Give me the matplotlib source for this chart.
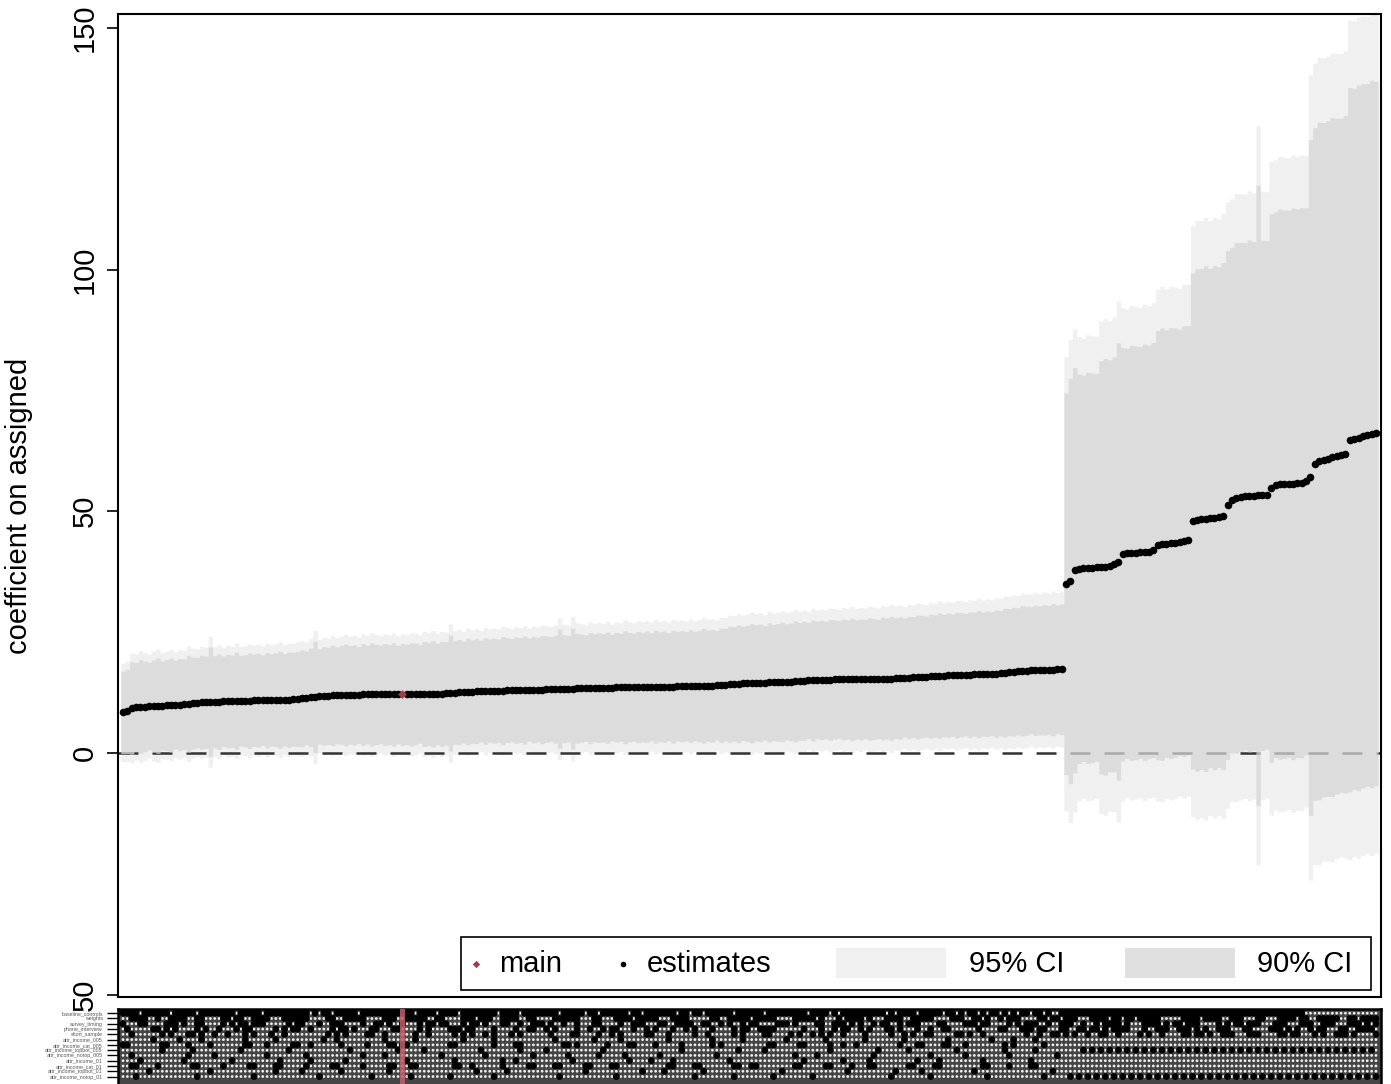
import numpy as np
import matplotlib
matplotlib.use("Agg")
import matplotlib.pyplot as plt
from matplotlib.patches import Rectangle

plt.rcParams["font.family"] = ["Liberation Sans", "DejaVu Sans"]

# specification curve: sorted point estimates and standard errors
EST_LOW = [
    8.4, 8.6, 9.3, 9.5, 9.6, 9.6, 9.7, 9.7, 9.8, 9.8,
    9.9, 9.9, 10.0, 10.0, 10.1, 10.2, 10.3, 10.4, 10.5, 10.5,
    10.6, 10.6, 10.6, 10.7, 10.7, 10.7, 10.8, 10.8, 10.8, 10.8,
    10.9, 10.9, 10.9, 10.9, 11.0, 11.0, 11.0, 11.0, 11.0, 11.1,
    11.2, 11.3, 11.4, 11.5, 11.6, 11.7, 11.8, 11.8, 11.9, 11.9,
    12.0, 12.0, 12.0, 12.0, 12.0, 12.1, 12.1, 12.1, 12.1, 12.1,
    12.1, 12.1, 12.1, 12.1, 12.1, 12.1, 12.1, 12.2, 12.2, 12.2,
    12.2, 12.2, 12.2, 12.2, 12.3, 12.4, 12.5, 12.6, 12.6, 12.7,
    12.7, 12.8, 12.8, 12.8, 12.9, 12.9, 12.9, 12.9, 13.0, 13.0,
    13.0, 13.0, 13.0, 13.1, 13.1, 13.1, 13.1, 13.2, 13.2, 13.2,
    13.3, 13.3, 13.3, 13.3, 13.4, 13.4, 13.4, 13.4, 13.5, 13.5,
    13.5, 13.5, 13.5, 13.6, 13.6, 13.6, 13.6, 13.6, 13.6, 13.6,
    13.7, 13.7, 13.7, 13.7, 13.7, 13.7, 13.7, 13.8, 13.8, 13.8,
    13.8, 13.8, 13.8, 13.9, 13.9, 13.9, 14.0, 14.0, 14.1, 14.2,
    14.3, 14.3, 14.4, 14.4, 14.4, 14.5, 14.5, 14.5, 14.6, 14.6,
    14.6, 14.7, 14.7, 14.7, 14.8, 14.8, 14.9, 15.0, 15.0, 15.1,
    15.1, 15.1, 15.1, 15.2, 15.2, 15.2, 15.2, 15.2, 15.2, 15.2,
    15.3, 15.3, 15.3, 15.3, 15.4, 15.4, 15.4, 15.5, 15.5, 15.6,
    15.6, 15.7, 15.7, 15.8, 15.8, 15.9, 15.9, 16.0, 16.0, 16.1,
    16.1, 16.1, 16.2, 16.2, 16.2, 16.3, 16.3, 16.3, 16.4, 16.4,
    16.4, 16.5, 16.6, 16.7, 16.8, 16.9, 17.0, 17.0, 17.1, 17.1,
    17.1, 17.2, 17.2, 17.2, 17.3, 17.3,
]
EST_HIGH = [
    35.0, 35.6,
    37.8, 38.1, 38.2, 38.3, 38.3, 38.4, 38.4, 38.5, 38.7, 39.0, 39.6,
    41.1, 41.3, 41.4, 41.4, 41.5, 41.5, 41.6, 42.0,
    43.0, 43.2, 43.3, 43.4, 43.5, 43.6, 43.8, 44.0,
    48.0, 48.2, 48.4, 48.5, 48.6, 48.7, 48.8, 49.0,
    51.3, 52.3, 52.8, 53.0, 53.1, 53.2, 53.2, 53.3, 53.3, 53.4,
    54.8, 55.5, 55.6, 55.6, 55.7, 55.7, 55.8, 55.9, 56.2, 57.0,
    59.8, 60.4, 60.7, 60.9, 61.2, 61.4, 61.6, 61.8,
    64.8, 65.0, 65.2, 65.6, 65.8, 66.0, 66.1,
]
SE_LOW = [
    5.2, 5.3, 5.8, 5.6, 5.9, 5.7, 5.5, 5.8, 6.0, 5.6,
    5.7, 5.9, 5.6, 5.8, 5.7, 6.1, 5.8, 5.7, 5.9, 5.8,
    6.9, 5.8, 6.0, 5.7, 5.9, 5.8, 6.1, 5.7, 5.8, 6.0,
    5.8, 5.9, 5.7, 6.0, 5.8, 5.9, 6.1, 5.8, 6.0, 5.9,
    6.0, 6.1, 5.9, 6.2, 7.0, 6.0, 6.2, 6.1, 6.3, 6.1,
    6.2, 6.4, 6.2, 6.3, 6.1, 6.4, 6.2, 6.5, 6.3, 6.2,
    6.4, 6.3, 6.5, 6.2, 6.4, 6.3, 6.5, 6.4, 6.2, 6.6,
    6.5, 6.7, 6.4, 6.6, 6.5, 7.3, 6.5, 6.6, 6.4, 6.7,
    6.5, 6.6, 6.4, 6.7, 6.5, 6.6, 6.5, 6.8, 6.6, 6.5,
    6.7, 6.6, 6.8, 6.5, 6.7, 6.6, 6.8, 6.7, 6.6, 6.8,
    7.5, 6.8, 6.7, 7.6, 6.9, 6.8, 6.7, 7.0, 6.8, 6.9,
    6.8, 7.0, 6.7, 6.9, 6.8, 7.1, 6.9, 6.8, 7.0, 6.9,
    7.0, 6.8, 7.1, 6.9, 7.0, 6.8, 7.1, 6.9, 7.0, 6.9,
    7.1, 6.9, 7.0, 7.2, 7.0, 7.1, 6.9, 7.2, 7.1, 7.3,
    7.2, 7.4, 7.2, 7.3, 7.5, 7.3, 7.4, 7.2, 7.5, 7.3,
    7.4, 7.5, 7.3, 7.4, 7.6, 7.4, 7.5, 7.3, 7.6, 7.4,
    7.5, 7.4, 7.6, 7.5, 7.4, 7.6, 7.5, 7.7, 7.5, 7.6,
    7.5, 7.7, 7.6, 7.5, 7.7, 7.6, 7.8, 7.6, 7.7, 7.5,
    7.7, 7.6, 7.8, 7.7, 7.6, 7.8, 7.7, 7.9, 7.7, 7.8,
    7.7, 7.9, 7.8, 7.7, 7.9, 7.8, 8.0, 7.8, 7.9, 7.8,
    8.0, 7.9, 8.1, 8.0, 8.1, 8.0, 8.2, 8.1, 8.0, 8.2,
    8.1, 8.2, 8.1, 8.3, 8.1, 8.2,
]
SE_HIGH = [
    24.0,
    25.5, 25.5,
    24.5, 24.3, 24.6, 24.5, 24.4,
    26.0, 26.2, 25.9, 26.1,
    27.5,
    26.0, 25.8, 26.1, 26.0, 25.9, 26.2, 26.0, 26.1,
    27.0, 27.2, 26.9, 27.1, 27.0, 26.8, 27.1, 27.0,
    31.2, 31.6, 31.5, 31.8, 31.4, 31.7, 31.5, 31.9,
    32.0, 31.8, 32.1, 32.0, 31.9, 32.2, 32.0, 39.0, 32.1, 32.0,
    34.5, 34.3, 34.6, 34.5, 34.4, 34.7, 34.5, 34.6, 34.4,
    42.5, 42.3, 42.6, 42.4, 42.5, 42.7, 42.5, 42.4, 42.6,
    44.3, 44.1, 44.4, 44.3, 44.2, 44.5, 44.3,
]
MAIN_SPEC = 64
Y_TICKS = [-50, 0, 50, 100, 150]
# the minus of the bottom label is hidden under the indicator panel
Y_TICK_LABELS = ["50", "0", "50", "100", "150"]

# specification indicators, one hex string per row (4 specs per digit)
ROW_LABELS = [
    "baseline_controls", "weights", "survey_timing", "phone_interview",
    "short_sample", "attr_income_005", "attr_income_cat_005",
    "attr_income_topbot_005", "attr_income_notop_005", "attr_income_01",
    "attr_income_cat_01", "attr_income_topbot_01", "attr_income_notop_01",
]
ROW_FLAGS = [
    "F7EFBF DF7FEB 7DFFEF 7BFDEF F7DBF6 FEDBF7 EFFBD7 FEBDF6 B5AB69 FFFFFF FFFFFF FE0000",
    "3C9E61 B3C7E1 9F0E7C C3B9E6 1F8C7B E3C19F 7C3E8B D1E7C3 9A5C36 E3DB7C 1EF38C 7B3E6F",
    "8C3A61 5B82C4 E1348B 62D193 A48C27 19E652 C3A19D 4B2E18 7615C9 C97A3D 6E15B8 E39C75",
    "41A852 2C1590 B4630A 1D8426 5092C4 A2510B 3C0896 51A24C 0863B1 9B5E27 3A9C61 D4B19E",
    "2051A4 8A2401 50C812 0A9450 2184A0 C4120A 1852A4 2094C1 A40126 A4C852 1B4E38 6C53A1",
    "010420 081002 400810 020400 100820 040102 008040 201004 010840 000000 000000 000000",
    "C06108 0C4190 2086C0 180430 06810C 208140 0C1824 80230C 402810 000000 000000 000000",
    "004080 100200 080104 002010 400200 008004 100020 040801 002040 0AAAAA AAAAAA AAAAAA",
    "200104 004020 010800 401002 020410 100080 002100 080040 401002 000000 000000 000000",
    "080200 400810 100040 080120 010008 420010 000804 100210 040080 000000 000000 000000",
    "3080C1 061820 C10630 0C8106 1830C0 06180C C03061 180C30 0610C0 000000 000000 000000",
    "020008 001040 200400 004080 002001 080400 010002 004100 100004 000000 000000 000000",
    "100040 020004 004020 100400 080040 001008 040200 008040 020010 555555 555555 555555",
]

W, H = 1391, 1084


def unpack(h):
    h = h.replace(" ", "")
    return np.array([int(b) for d in h for b in format(int(d, 16), "04b")])


def fig_rect(x0, y0, x1, y1):
    # pixel box (top-left origin) -> figure fraction [l, b, w, h]
    return [x0 / W, 1 - y1 / H, (x1 - x0) / W, (y1 - y0) / H]


def main():
    est = np.array(EST_LOW + EST_HIGH)
    se = np.array(SE_LOW + SE_HIGH)
    n = len(est)
    idx = np.arange(n)
    lo95, hi95 = est - 1.96 * se, est + 1.96 * se
    lo90, hi90 = est - 1.645 * se, est + 1.645 * se

    xs = np.repeat(np.arange(n + 1) - 0.5, 2)[1:-1]

    def st(v):
        return np.repeat(v, 2)

    fig = plt.figure(figsize=(W / 100, H / 100), dpi=100)
    ax = fig.add_axes(fig_rect(118, 14, 1381, 997))
    ax.set_zorder(0)

    ax.fill_between(xs, st(lo95), st(hi95), color="#f0f0f0", lw=0, zorder=1)
    ax.axhline(0, color="#333333", lw=1.8, dashes=(8, 5.6), zorder=2)
    ax.fill_between(xs, st(lo90), st(hi90), color=(0.835, 0.835, 0.835),
                    alpha=0.735, lw=0, zorder=3)

    m = idx != MAIN_SPEC
    ax.scatter(idx[m], est[m], s=30, c="black", linewidths=0, zorder=4)
    ax.scatter([MAIN_SPEC], [est[MAIN_SPEC]], marker="D", s=20, c="#a53a48",
               linewidths=0, zorder=5)

    ax.set_xlim(-1.15, n - 1 + 1.15)
    ax.set_ylim(-50.5, 152.9)
    ax.set_yticks(Y_TICKS)
    ax.set_yticklabels(Y_TICK_LABELS)
    ax.set_xticks([])
    ax.tick_params(axis="y", direction="out", length=8, width=1.2,
                   labelsize=21, pad=6)
    plt.setp(ax.get_yticklabels(), rotation=90, va="center")
    for s in ax.spines.values():
        s.set_linewidth(1.5)
    ax.set_ylabel("coefficient on assigned", fontsize=21)
    ax.yaxis.set_label_coords(-0.067, 0.5)

    # legend box (Stata style, drawn by hand)
    tr = ax.transAxes

    def axx(px):
        return (px - 118) / 1263

    def axy(py):
        return (997 - py) / 983

    ax.add_patch(Rectangle((axx(461), axy(990)), axx(1371) - axx(461),
                           axy(937) - axy(990), transform=tr, fc="white",
                           ec="black", lw=1.2, zorder=10))
    yc = axy(964)
    ax.scatter([axx(476)], [yc], marker="D", s=14, c="#a53a48", linewidths=0,
               transform=tr, zorder=11)
    ax.text(axx(499), yc, "main", transform=tr, fontsize=21, va="center",
            zorder=11)
    ax.scatter([axx(623)], [yc], s=16, c="black", linewidths=0,
               transform=tr, zorder=11)
    ax.text(axx(647), yc, "estimates", transform=tr, fontsize=21,
            va="center", zorder=11)
    for (px0, px1, col, lab, tx) in [(836, 946, "#f0f0f0", "95% CI", 969),
                                     (1125, 1235, "#e0e0e0", "90% CI", 1257)]:
        ax.add_patch(Rectangle((axx(px0), axy(978)), axx(px1) - axx(px0),
                               axy(948) - axy(978), transform=tr, fc=col,
                               lw=0, zorder=11))
        ax.text(axx(tx), yc, lab, transform=tr, fontsize=21, va="center",
                zorder=11)

    # indicator matrix
    M = np.vstack([unpack(h) for h in ROW_FLAGS])
    axm = fig.add_axes(fig_rect(118, 1009, 1381, 1085.5))
    axm.set_zorder(1)
    axm.set_facecolor("#454545")
    axm.set_xlim(ax.get_xlim())
    axm.set_ylim(13.7, -0.8)
    rr, cc = np.meshgrid(np.arange(M.shape[0]), idx, indexing="ij")
    on = M.astype(bool)
    axm.scatter(cc[~on], rr[~on], s=4, marker="o", facecolors="#eeeeee",
                edgecolors="none", zorder=2)
    axm.scatter(cc[on], rr[on], s=24, marker="o", facecolors="black",
                edgecolors="none", zorder=2)
    axm.axvspan(MAIN_SPEC - 0.55, MAIN_SPEC + 0.55, color="#c0606a",
                alpha=0.85, lw=0, zorder=3)
    axm.set_xticks([])
    axm.set_yticks(np.arange(len(ROW_LABELS)))
    axm.set_yticklabels(ROW_LABELS)
    axm.tick_params(axis="y", direction="out", length=8, width=1.0,
                    labelsize=3.8, labelcolor="#555555", pad=3)
    for s in axm.spines.values():
        s.set_linewidth(1.8)

    fig.savefig("out.png", dpi=100)
    plt.close(fig)


if __name__ == "__main__":
    main()
